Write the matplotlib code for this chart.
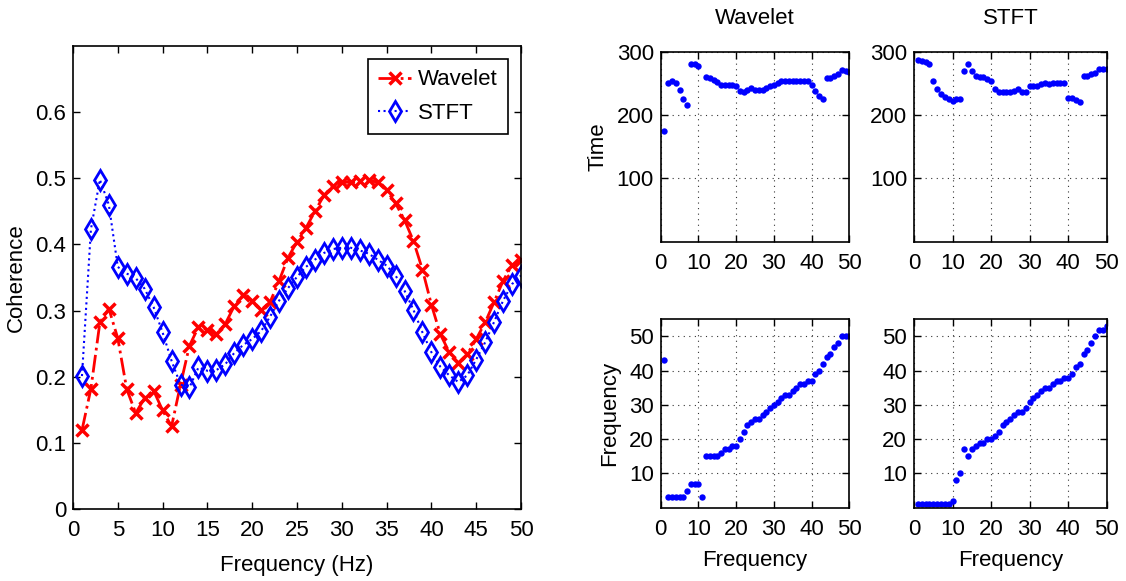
import numpy as np
import matplotlib
matplotlib.use("Agg")
import matplotlib.pyplot as plt
from matplotlib import font_manager

# ---------------- data ----------------
freq = list(range(1, 51))

coh_wavelet = [0.119, 0.182, 0.282, 0.303, 0.258, 0.181, 0.145, 0.168, 0.179, 0.149,
               0.125, 0.188, 0.247, 0.275, 0.271, 0.264, 0.280, 0.307, 0.324, 0.315,
               0.301, 0.313, 0.345, 0.380, 0.404, 0.425, 0.450, 0.474, 0.489, 0.494,
               0.494, 0.496, 0.497, 0.494, 0.482, 0.462, 0.437, 0.405, 0.362, 0.309,
               0.264, 0.237, 0.221, 0.234, 0.257, 0.282, 0.313, 0.345, 0.369, 0.376]

coh_stft = [0.201, 0.423, 0.498, 0.460, 0.366, 0.356, 0.349, 0.333, 0.305, 0.267,
            0.224, 0.188, 0.184, 0.214, 0.209, 0.210, 0.219, 0.236, 0.248, 0.257,
            0.269, 0.291, 0.315, 0.334, 0.351, 0.366, 0.377, 0.387, 0.393, 0.395,
            0.395, 0.391, 0.386, 0.377, 0.368, 0.353, 0.330, 0.301, 0.267, 0.237,
            0.215, 0.202, 0.192, 0.202, 0.226, 0.252, 0.283, 0.315, 0.340, 0.353]

time_wavelet = [175, 250, 254, 251, 240, 225, 216, 280, 280, 277,
                np.nan, 260, 259, 256, 252, 248, 247, 248, 247, 246,
                238, 237, 240, 242, 240, 239, 239, 242, 246, 248,
                251, 253, 254, 254, 254, 254, 254, 254, 253, 248,
                238, 230, 226, 258, 259, 262, 265, 271, 270, 268]

time_stft = [287, 285, 283, 281, 254, 241, 233, 229, 226, 222,
             225, 225, 270, 280, 269, 262, 260, 260, 257, 253,
             241, 237, 236, 236, 236, 238, 241, 237, 237, 246,
             246, 246, 249, 250, 249, 250, 251, 251, 250, 227,
             227, 224, 220, 262, 262, 264, 266, 272, 272, 272]

peak_wavelet = [43, 3, 3, 3, 3, 3, 5, 7, 7, 7,
                3, 15, 15, 15, 15, 16, 17, 17, 18, 18,
                20, 22, 24, 25, 26, 26, 27, 28, 29, 30,
                31, 32, 33, 33, 34, 35, 36, 36, 37, 37,
                39, 40, 42, 44, 45, 47, 48, 50, 50, 50]

peak_stft = [1, 1, 1, 1, 1, 1, 1, 1, 1, 2,
             8, 10, 17, 15, 17, 18, 19, 19, 20, 20,
             21, 22, 24, 25, 26, 27, 28, 28, 29, 31,
             32, 33, 34, 35, 35, 36, 37, 37, 38, 38,
             39, 41, 42, 45, 46, 48, 50, 52, 52, 53]

main_xticks = list(range(0, 51, 5))
main_yticks = [0, 0.1, 0.2, 0.3, 0.4, 0.5, 0.6]
main_yticklabels = ["0", "0.1", "0.2", "0.3", "0.4", "0.5", "0.6"]
small_xticks = [0, 10, 20, 30, 40, 50]
time_yticks = [100, 200, 300]
freq_yticks = [10, 20, 30, 40, 50]

# ---------------- fonts ----------------
names = {f.name for f in font_manager.fontManager.ttflist}
if "Liberation Sans Narrow" in names:
    FAM = ["Liberation Sans Narrow", "DejaVu Sans"]
    FS = 19
else:
    FAM = ["Liberation Sans", "DejaVu Sans"]
    FS = 16
plt.rcParams["font.family"] = FAM
plt.rcParams["font.size"] = FS
plt.rcParams["axes.linewidth"] = 1.2

fig = plt.figure(figsize=(11.26, 5.81), dpi=100)
W, H = 1126.0, 581.0


def box(l, r, t, b):
    return [l / W, 1 - b / H, (r - l) / W, (b - t) / H]


def style(ax):
    ax.tick_params(direction="in", top=True, right=True, length=5, width=1,
                   labelsize=FS)
    ax.tick_params(axis="x", pad=8)
    ax.tick_params(axis="y", pad=5)


# ---------------- main axes ----------------
ax = fig.add_axes(box(73, 521, 46, 509))
ax.plot(freq, coh_wavelet, color="red", linestyle="-.", linewidth=2,
        marker="x", markersize=8, markeredgewidth=2.5, label="Wavelet")
ax.plot(freq, coh_stft, color="blue", linestyle=":", linewidth=1.5,
        marker="d", markersize=10, markeredgewidth=2, markerfacecolor="none",
        label="STFT")
ax.set_xlim(0, 50)
ax.set_ylim(0, 0.7)
ax.set_xticks(main_xticks)
ax.set_yticks(main_yticks)
ax.set_yticklabels(main_yticklabels)
style(ax)
ax.set_xlabel("Frequency (Hz)", fontsize=FS, labelpad=10)
ax.set_ylabel("Coherence", fontsize=FS, labelpad=6)
leg = ax.legend(loc="upper right", fontsize=FS, fancybox=False, framealpha=1,
                edgecolor="black", handlelength=1.5, borderaxespad=0.6,
                labelspacing=0.55, handletextpad=0.3, borderpad=0.45)
leg.get_frame().set_linewidth(1.2)

# ---------------- small axes ----------------
xl, xr = 660.7, 849.3
xl2, xr2 = 914, 1106.7
ttop, tbot = 51.7, 241.7
btop, bbot = 319.3, 507.7

specs = [
    (box(xl, xr, ttop, tbot), time_wavelet, (0, 300), time_yticks, "Wavelet", "Time", None),
    (box(xl2, xr2, ttop, tbot), time_stft, (0, 300), time_yticks, "STFT", None, None),
    (box(xl, xr, btop, bbot), peak_wavelet, (0, 55), freq_yticks, None, "Frequency", "Frequency"),
    (box(xl2, xr2, btop, bbot), peak_stft, (0, 55), freq_yticks, None, None, "Frequency"),
]

for rect, vals, ylim, yt, title, ylab, xlab in specs:
    a = fig.add_axes(rect)
    a.plot(freq, vals, linestyle="none", marker="o", markersize=4.6,
           color="blue", markeredgewidth=0)
    a.set_xlim(0, 50)
    a.set_ylim(*ylim)
    a.set_xticks(small_xticks)
    a.set_yticks(yt)
    a.grid(True, linestyle=(0, (1, 4)), color="black", linewidth=0.8, alpha=0.8)
    style(a)
    if title:
        a.set_title(title, fontsize=FS, pad=20)
    if ylab:
        a.set_ylabel(ylab, fontsize=FS, labelpad=6)
    if xlab:
        a.set_xlabel(xlab, fontsize=FS, labelpad=7)

fig.savefig("out.png", dpi=100)
